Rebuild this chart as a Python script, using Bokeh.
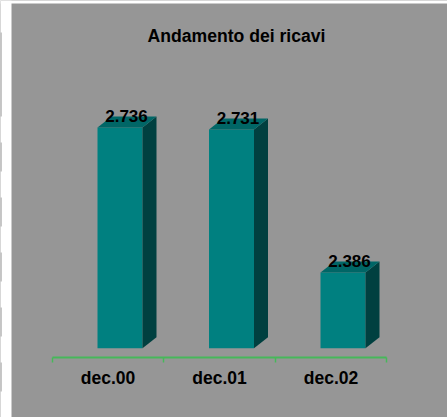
from bokeh.core.properties import value
from bokeh.embed import file_html
from bokeh.models import (BoxAnnotation, ColumnDataSource, FixedTicker, Label,
                          LinearAxis, Range1d)
from bokeh.plotting import figure
from bokeh.resources import INLINE

# ---- data ----
categories = ["dec.00", "dec.01", "dec.02"]
revenues = [2736, 2731, 2386]
title_text = "Andamento dei ricavi"

# ---- chart geometry in pixels ----
W, H = 447, 417
STEP_PX = 111.5
ZERO_X_PX = 107.5
PX_PER_UNIT = 0.4143
REF_VALUE, REF_PX = 2736, 127
BASE_VALUE = 2203
BAR_LEFT_PX, BAR_RIGHT_PX = -10.5, 34.5
DEPTH_X_PX, DEPTH_Y_PX = 14, 11
FONT = value("Liberation Sans")

GRAY, WHITE = "#969696", "#ffffff"
FRONT, SIDE, TOP = "#008080", "#004040", "#006666"
GREEN = "#46b85a"
STRIP_SEGMENTS = [(32, 116), (142, 171), (197, 226), (252, 281), (307, 336), (362, 391)]


def px_to_value(py):
    return REF_VALUE - (py - REF_PX) / PX_PER_UNIT


x_start = -ZERO_X_PX / STEP_PX
x_end = (W - ZERO_X_PX) / STEP_PX
p = figure(
    width=W, height=H, output_backend="svg", toolbar_location=None,
    x_axis_type=None, y_axis_type=None, min_border=0,
    x_range=Range1d(x_start, x_end),
    y_range=Range1d(px_to_value(H), px_to_value(0)),
    background_fill_color=GRAY, border_fill_color=GRAY,
    outline_line_color=None,
    styles={"position": "absolute", "left": "0px", "top": "0px"},
)
p.grid.visible = False

# ---- 3D bars, all derived from the values ----
dx = DEPTH_X_PX / STEP_PX
dy = DEPTH_Y_PX / PX_PER_UNIT
lefts = [i + BAR_LEFT_PX / STEP_PX for i in range(len(revenues))]
rights = [i + BAR_RIGHT_PX / STEP_PX for i in range(len(revenues))]

p.quad(left=lefts, right=rights, bottom=BASE_VALUE, top=revenues,
       fill_color=FRONT, line_color=None)
p.patches(
    xs=[[r, r + dx, r + dx, r] for r in rights],
    ys=[[BASE_VALUE, BASE_VALUE + dy, v + dy, v] for v in revenues],
    fill_color=SIDE, line_color=None,
)
p.patches(
    xs=[[l, r, r + dx, l + dx] for l, r in zip(lefts, rights)],
    ys=[[v, v, v + dy, v + dy] for v in revenues],
    fill_color=TOP, line_color=None,
)

# ---- value labels ----
source = ColumnDataSource(dict(
    x=[(l + r) / 2 + 6.5 / STEP_PX for l, r in zip(lefts, rights)],
    y=revenues,
    label=[f"{v:,}".replace(",", ".") for v in revenues],
))
p.text(x="x", y="y", text="label", source=source, text_font=FONT,
       text_font_style="bold", text_font_size="17px", text_color="#000000",
       text_align="center", text_baseline="middle", y_offset=-12)

# ---- category axis ----
axis = LinearAxis(
    fixed_location=px_to_value(357),
    ticker=FixedTicker(
        ticks=list(range(len(categories))),
        minor_ticks=[i - 0.5 for i in range(len(categories) + 1)],
    ),
    major_label_overrides={i: c for i, c in enumerate(categories)},
    major_label_text_font="Liberation Sans",
    major_label_text_font_style="bold",
    major_label_text_font_size="17.5px",
    major_label_text_color="#000000",
    major_label_standoff=4,
    major_tick_line_color=None,
    minor_tick_in=0, minor_tick_out=5,
    minor_tick_line_color=GREEN, minor_tick_line_width=1.5,
    axis_line_color=GREEN, axis_line_width=2,
    bounds=(-0.5, len(categories) - 0.5),
)
p.add_layout(axis, "below")

# ---- title ----
p.add_layout(Label(
    x=1 + (236 - ZERO_X_PX - STEP_PX) / STEP_PX, y=px_to_value(35.5),
    text=title_text, text_font="Liberation Sans", text_font_style="bold",
    text_font_size="17.6px", text_color="#000000",
    text_align="center", text_baseline="middle",
))


# ---- white page strip to the left and above the gray panel ----
# Screen-unit boxes measure y from the bottom edge of the canvas.
def screen_box(left, right, top, bottom, color):
    p.add_layout(BoxAnnotation(
        left=left, right=right, top=H - top, bottom=H - bottom,
        left_units="screen", right_units="screen",
        top_units="screen", bottom_units="screen",
        fill_color=color, fill_alpha=1, line_color=None, line_alpha=0,
    ))


screen_box(0, W, 0, 3, WHITE)
screen_box(0, 11, 0, H, WHITE)
for y0, y1 in STRIP_SEGMENTS:
    screen_box(0, 1, y0, y1, "#909090")

open("out.html", "w").write(file_html(p, INLINE))
